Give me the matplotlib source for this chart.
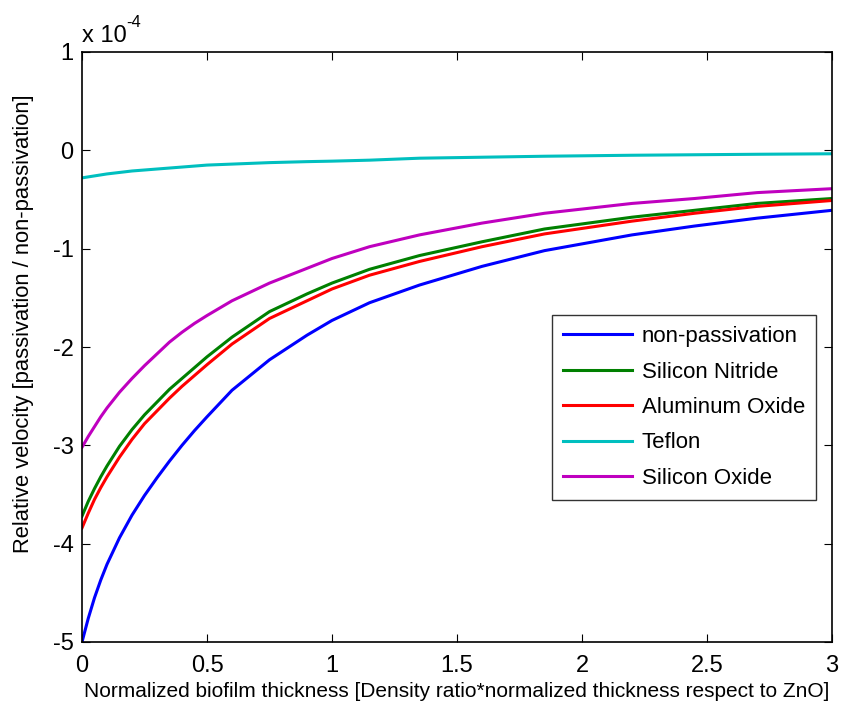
import matplotlib
matplotlib.use("Agg")
import matplotlib.pyplot as plt

plt.rcParams['font.family'] = ['Liberation Sans', 'DejaVu Sans']

x = [0, 0.025, 0.05, 0.075, 0.1, 0.15, 0.2, 0.25, 0.3, 0.35, 0.4, 0.45, 0.5, 0.6,
     0.75, 0.9, 1.0, 1.15, 1.35, 1.6, 1.85, 2.2, 2.45, 2.7, 3.0]

non_passivation = [-5.00, -4.76, -4.55, -4.37, -4.21, -3.94, -3.71, -3.51, -3.33, -3.16,
                   -3.00, -2.85, -2.71, -2.44, -2.13, -1.88, -1.73, -1.55, -1.37, -1.18,
                   -1.02, -0.86, -0.77, -0.69, -0.61]
silicon_nitride = [-3.72, -3.57, -3.44, -3.32, -3.21, -3.01, -2.84, -2.69, -2.56, -2.43,
                   -2.32, -2.21, -2.10, -1.90, -1.64, -1.46, -1.35, -1.21, -1.07, -0.93,
                   -0.80, -0.68, -0.61, -0.54, -0.49]
aluminum_oxide = [-3.84, -3.69, -3.55, -3.43, -3.32, -3.12, -2.94, -2.78, -2.65, -2.52,
                  -2.40, -2.29, -2.18, -1.97, -1.71, -1.53, -1.41, -1.27, -1.13, -0.98,
                  -0.85, -0.72, -0.64, -0.57, -0.51]
teflon = [-0.28, -0.27, -0.26, -0.25, -0.24, -0.225, -0.21, -0.20, -0.19, -0.18,
          -0.17, -0.16, -0.15, -0.14, -0.125, -0.115, -0.11, -0.10, -0.08, -0.07,
          -0.06, -0.05, -0.045, -0.04, -0.035]
silicon_oxide = [-3.02, -2.91, -2.81, -2.71, -2.62, -2.46, -2.32, -2.19, -2.07, -1.95,
                 -1.85, -1.76, -1.68, -1.53, -1.35, -1.20, -1.10, -0.98, -0.86, -0.74,
                 -0.64, -0.54, -0.49, -0.43, -0.39]

labels = ['non-passivation', 'Silicon Nitride', 'Aluminum Oxide', 'Teflon', 'Silicon Oxide']
series = [non_passivation, silicon_nitride, aluminum_oxide, teflon, silicon_oxide]
colors = ['#0000ff', '#008000', '#ff0000', '#00bfbf', '#bf00bf']

xticks = [0, 0.5, 1, 1.5, 2, 2.5, 3]
xticklabels = ['0', '0.5', '1', '1.5', '2', '2.5', '3']
yticks = [-5, -4, -3, -2, -1, 0, 1]
yticklabels = ['-5', '-4', '-3', '-2', '-1', '0', '1']

fig = plt.figure(figsize=(8.63, 7.09), dpi=100)
ax = fig.add_axes([82/863, 1 - 642/709, 750/863, 590/709])

for ys, lab, c in zip(series, labels, colors):
    ax.plot(x, ys, color=c, lw=2.2, label=lab)

ax.set_xlim(0, 3)
ax.set_ylim(-5, 1)
ax.set_xticks(xticks)
ax.set_xticklabels(xticklabels)
ax.set_yticks(yticks)
ax.set_yticklabels(yticklabels)
ax.tick_params(direction='in', length=6, width=0.8, labelsize=17, top=True, right=True)
ax.tick_params(axis='x', pad=9)
ax.tick_params(axis='y', pad=6)
for s in ax.spines.values():
    s.set_linewidth(1.2)

ax.set_xlabel('Normalized biofilm thickness [Density ratio*normalized thickness respect to ZnO]',
              fontsize=15, labelpad=4)
ax.set_ylabel('Relative velocity [passivation / non-passivation]', fontsize=15.8)
ax.yaxis.set_label_coords(-0.064, (642 - 324) / 590)

fig.text(82/863, 1 - 42/709, 'x 10', fontsize=17, ha='left', va='baseline')
fig.text(126/863, 1 - 27/709, '-4', fontsize=12, ha='left', va='baseline')

leg = ax.legend(loc='upper left', bbox_to_anchor=((551.7 - 82) / 750, (642 - 315) / 590),
                fontsize=16, frameon=True, fancybox=False, edgecolor='black',
                handlelength=3.1, handletextpad=0.45, labelspacing=0.65,
                borderpad=0.5, borderaxespad=0.0)
leg.get_frame().set_linewidth(1.0)

fig.savefig('out.png', dpi=100)
